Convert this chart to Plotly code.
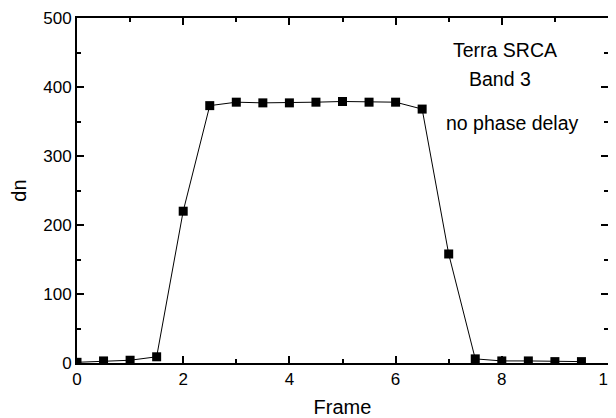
import plotly.graph_objects as go

frame = [0, 0.5, 1, 1.5, 2, 2.5, 3, 3.5, 4, 4.5, 5, 5.5, 6, 6.5, 7, 7.5, 8, 8.5, 9, 9.5]
dn = [1, 3, 4, 9, 220, 373, 378, 377, 377, 378, 379, 378, 378, 368, 158, 6, 3, 3, 2, 2]

FONT = "Liberation Sans, Arial"

fig = go.Figure()
fig.add_trace(go.Scatter(
    x=frame, y=dn, mode="lines+markers",
    line=dict(color="black", width=1),
    marker=dict(symbol="square", size=9, color="black"),
    showlegend=False,
))

axis_common = dict(
    showline=True, linecolor="black", linewidth=2, mirror="allticks",
    ticks="inside", ticklen=7, tickwidth=2, tickcolor="black",
    showgrid=False, zeroline=False, automargin=False,
    ticklabeloverflow="allow",
    tickfont=dict(family=FONT, size=17, color="black"),
)

fig.update_xaxes(range=[0, 10], dtick=2, tick0=0,
                 minor=dict(ticks="inside", dtick=1, ticklen=4, tickwidth=2, tickcolor="black"),
                 title=dict(text="Frame", font=dict(family=FONT, size=20, color="black"), standoff=12),
                 **axis_common)
fig.update_yaxes(range=[0, 500], dtick=100, tick0=0,
                 minor=dict(ticks="inside", dtick=50, ticklen=4, tickwidth=2, tickcolor="black"),
                 title=dict(text="dn", font=dict(family=FONT, size=20, color="black"), standoff=14),
                 **axis_common)

font_ann = dict(family=FONT, size=19.5, color="black")
fig.add_annotation(x=8.06, y=453, text="Terra SRCA", showarrow=False, font=font_ann)
fig.add_annotation(x=7.97, y=411, text="Band 3", showarrow=False, font=font_ann)
fig.add_annotation(x=8.21, y=348, text="no phase delay", showarrow=False, font=font_ann)

# page body has an 8px default margin, so the figure is 8px smaller
fig.update_layout(
    width=608, height=410,
    margin=dict(l=69, r=8, t=10, b=55),
    plot_bgcolor="white", paper_bgcolor="white",
)

fig.write_html("out.html")
